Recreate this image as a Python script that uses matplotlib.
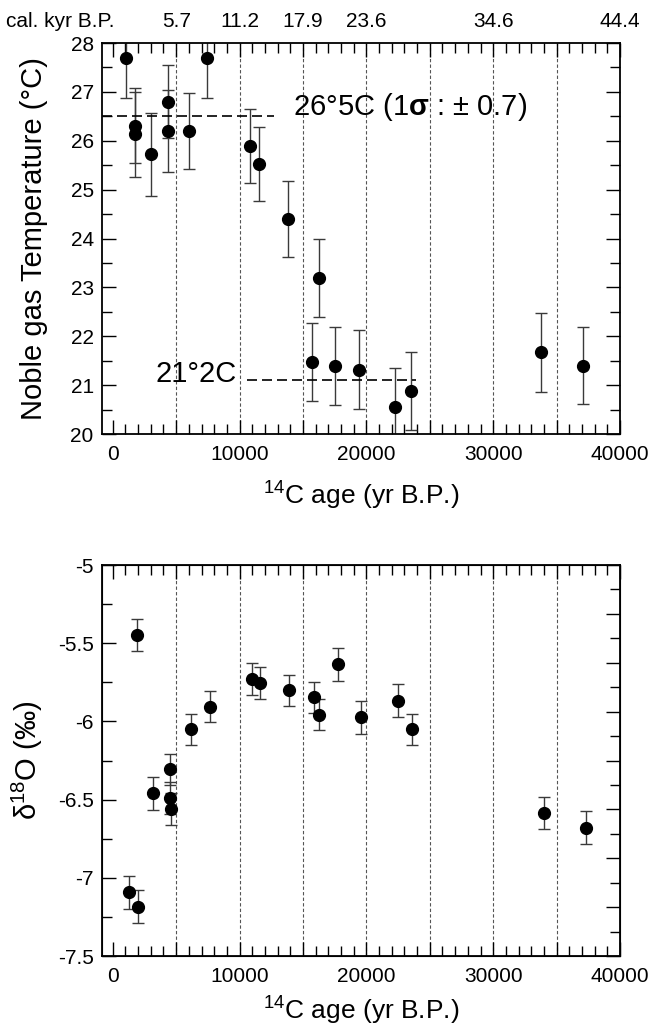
import matplotlib.pyplot as plt
from matplotlib.ticker import MultipleLocator
from matplotlib.transforms import blended_transform_factory

plt.rcParams['font.family'] = ['Liberation Sans', 'DejaVu Sans']
plt.rcParams['mathtext.fontset'] = 'custom'
plt.rcParams['mathtext.rm'] = 'Liberation Sans'
plt.rcParams['mathtext.bf'] = 'Liberation Sans:bold'

# noble gas temperatures (14C age, degC, 1 sigma)
ngt_age = [1080, 1790, 1790, 3030, 4340, 4340, 6030, 7450, 10840, 11500,
           13790, 16240, 15700, 17560, 19440, 22220, 23500, 33780, 37100]
ngt_temp = [27.70, 26.31, 26.13, 25.72, 26.80, 26.20, 26.20, 27.70, 25.90, 25.52,
            24.40, 23.19, 21.48, 21.40, 21.32, 20.56, 20.88, 21.67, 21.40]
ngt_err = [0.83, 0.76, 0.87, 0.84, 0.74, 0.84, 0.78, 0.83, 0.76, 0.76,
           0.78, 0.80, 0.80, 0.80, 0.80, 0.80, 0.80, 0.80, 0.79]

# delta 18O of groundwater
d18o_age = [1263, 1895, 1974, 3160, 4475, 4475, 4630, 6185, 7660, 10975,
            11580, 13900, 15870, 16300, 17745, 19565, 22468, 23630, 34000, 37350]
d18o_val = [-7.093, -5.447, -7.184, -6.46, -6.306, -6.49, -6.559, -6.051, -5.906, -5.729,
            -5.754, -5.80, -5.846, -5.956, -5.635, -5.974, -5.868, -6.051, -6.585, -6.68]
d18o_err = [0.104, 0.105, 0.105, 0.105, 0.10, 0.10, 0.10, 0.10, 0.10, 0.105,
            0.105, 0.10, 0.10, 0.10, 0.105, 0.105, 0.105, 0.10, 0.10, 0.105]

cal_pos = [5000, 10000, 15000, 20000, 30000, 40000]
cal_labels = ['5.7', '11.2', '17.9', '23.6', '34.6', '44.4']
stage_lines = [5000, 10000, 15000, 20000, 25000, 30000, 35000]

warm_level = 26.5
cold_level = 21.1

fig = plt.figure(figsize=(6.48, 10.29), dpi=100)
ax1 = fig.add_axes([0.1574, 0.5782, 0.7994, 0.380])
ax2 = fig.add_axes([0.1574, 0.0709, 0.7994, 0.380])


def style_x(ax, pad):
    ax.set_xlim(-850, 40000)
    ticks = list(range(0, 40001, 5000))
    ax.set_xticks(ticks)
    ax.set_xticklabels([str(t) if t % 10000 == 0 else '' for t in ticks])
    ax.xaxis.set_minor_locator(MultipleLocator(1000))
    for x in stage_lines:
        ax.axvline(x, color='#555555', lw=0.8, ls=(0, (3, 2)), zorder=0)
    ax.set_xlabel(r'$^{14}$C age (yr B.P.)', fontsize=19, labelpad=pad)
    for s in ax.spines.values():
        s.set_linewidth(1.3)
    ax.tick_params(which='both', direction='in', top=True, labelsize=15, width=1)
    ax.tick_params(axis='x', which='both', pad=8)
    ax.tick_params(axis='y', which='both', pad=6)
    ax.tick_params(which='major', length=10)
    ax.tick_params(which='minor', length=7)


# ---- top: noble gas temperature
style_x(ax1, 10)
ax1.tick_params(right=True, which='both')
ax1.set_ylim(20, 28)
ax1.yaxis.set_major_locator(MultipleLocator(1))
ax1.yaxis.set_minor_locator(MultipleLocator(0.5))
ax1.errorbar(ngt_age, ngt_temp, yerr=ngt_err, fmt='o', color='black', ms=8.5,
             ecolor='#3a3a3a', elinewidth=1, capsize=4.5, capthick=1)
ax1.plot([-850, 12700], [warm_level, warm_level], color='black', lw=1.2, ls=(0, (6, 3)))
ax1.plot([10580, 23900], [cold_level, cold_level], color='black', lw=1.2, ls=(0, (6, 3)))
ax1.text(14200, warm_level + 0.02, r'26°5C (1$\mathbf{σ}$ : ± 0.7)', fontsize=21, va='baseline')
ax1.text(9780, cold_level - 0.03, '21°2C', fontsize=21, ha='right', va='baseline')
ax1.set_ylabel('Noble gas Temperature (°C)', fontsize=21)
ax1.yaxis.set_label_coords(-0.105, 0.5)

tr = blended_transform_factory(ax1.transData, ax1.transAxes)
for p, lab in zip(cal_pos, cal_labels):
    ax1.text(p, 1.03, lab, transform=tr, ha='center', va='bottom', fontsize=15)
ax1.text(-0.08, 1.03, 'cal. kyr B.P.', transform=ax1.transAxes,
         ha='center', va='bottom', fontsize=15)

# ---- bottom: delta 18O
style_x(ax2, 5)
ax2.tick_params(right=False, which='both')
ax2.set_ylim(-7.5, -5)
ax2.yaxis.set_major_locator(MultipleLocator(0.5))
ax2.yaxis.set_minor_locator(MultipleLocator(0.25))
ax2.set_yticks([-7.5, -7, -6.5, -6, -5.5, -5])
ax2.set_yticklabels(['-7.5', '-7', '-6.5', '-6', '-5.5', '-5'])
ax2.errorbar(d18o_age, d18o_val, yerr=d18o_err, fmt='o', color='black', ms=8.5,
             ecolor='#3a3a3a', elinewidth=1, capsize=4.5, capthick=1)
ax2.set_ylabel(r'δ$^{18}$O (‰)', fontsize=21)
ax2.yaxis.set_label_coords(-0.11, 0.5)

tw = ax2.twinx()
tw.set_ylim(20, 28)
tw.yaxis.set_major_locator(MultipleLocator(1))
tw.yaxis.set_minor_locator(MultipleLocator(0.5))
tw.tick_params(which='both', direction='in', labelright=False, width=1)
tw.tick_params(which='major', length=10)
tw.tick_params(which='minor', length=7)

fig.savefig('out.png', dpi=100)
